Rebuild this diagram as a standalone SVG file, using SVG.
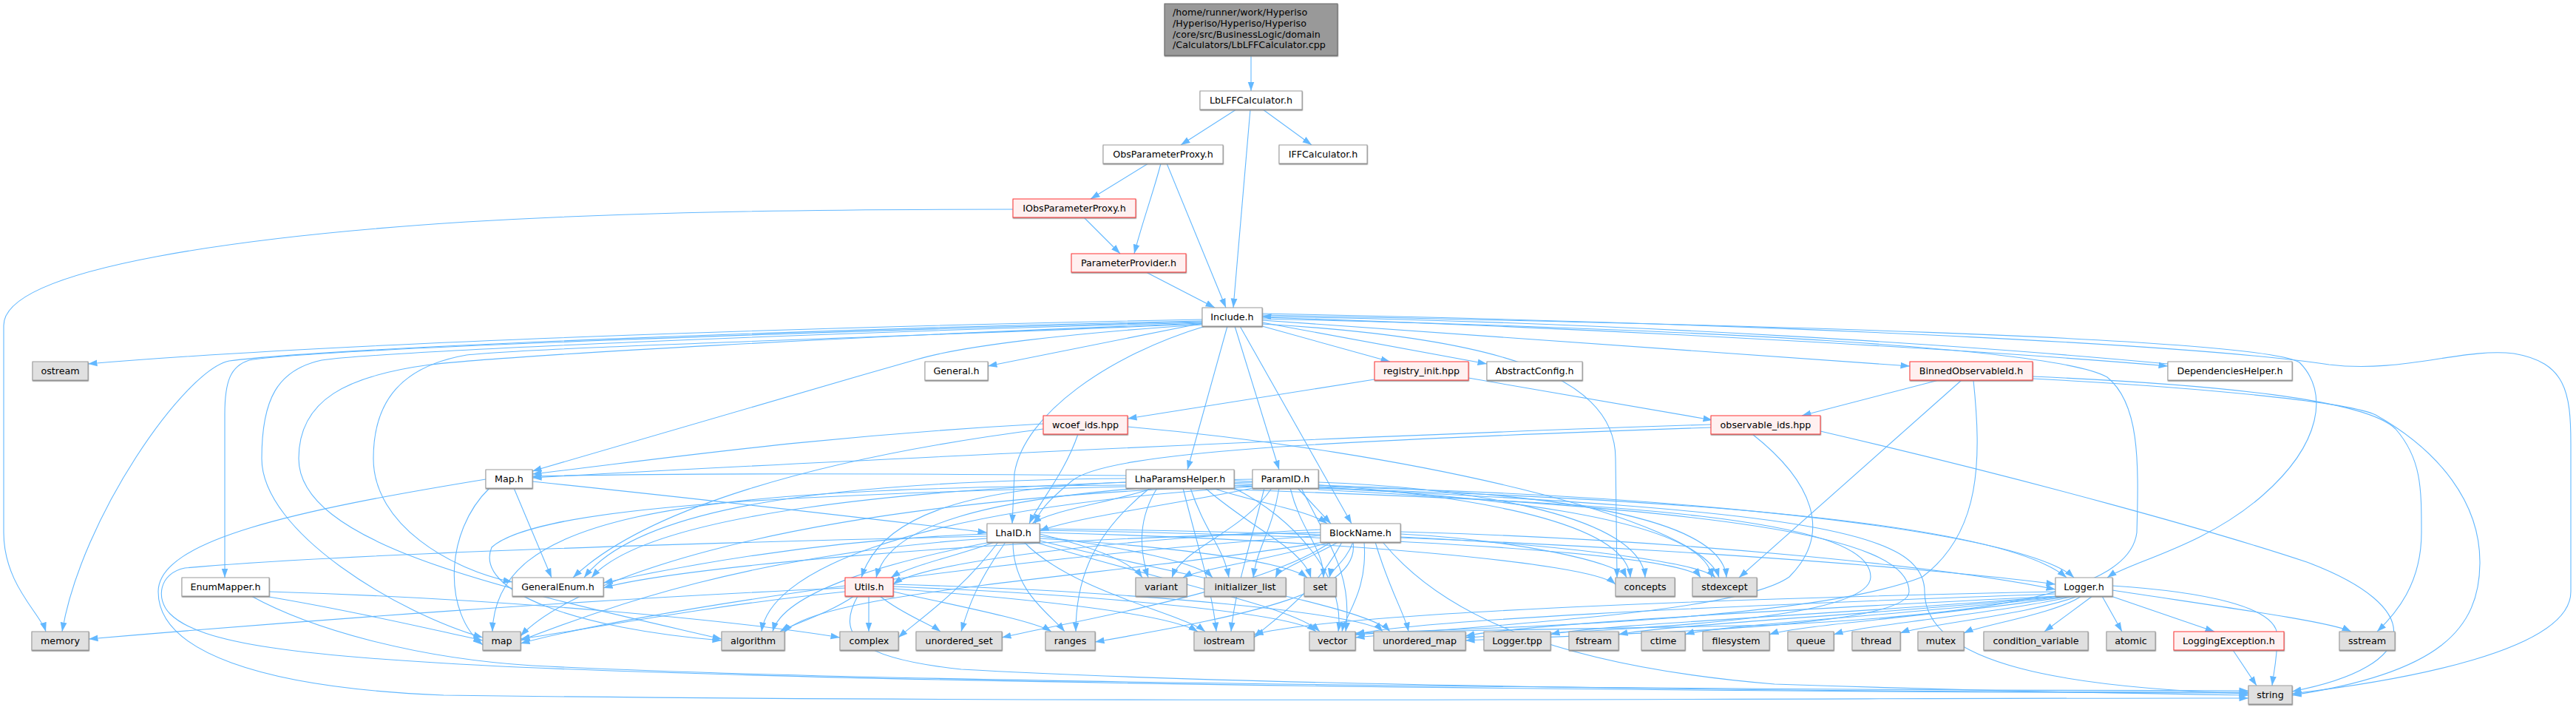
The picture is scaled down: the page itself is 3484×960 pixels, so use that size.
<svg xmlns="http://www.w3.org/2000/svg" width="3484" height="960" viewBox="0 0 3484 960">
<style>
.e{fill:none;stroke:#63b8ff;stroke-width:1.1;marker-end:url(#a)}
text{font-family:"DejaVu Sans","Liberation Sans",sans-serif;font-size:12.7px;fill:#000;text-anchor:middle}
rect{filter:url(#sh)}
.n rect{fill:#fff;stroke:#999}
.r rect{fill:#fff0f0;stroke:#f33}
.s rect{fill:#e0e0e0;stroke:#999}
.m rect{fill:#999;stroke:#666}
.m text{text-anchor:start}
</style>
<defs>
<marker id="a" markerWidth="13" markerHeight="10" refX="12.5" refY="5" orient="auto" markerUnits="userSpaceOnUse"><path d="M0,0.6 L12.5,5 L0,9.4 z" fill="#63b8ff"/></marker>
<filter id="sh" x="-5%" y="-10%" width="110%" height="130%"><feDropShadow dx="0.4" dy="1.2" stdDeviation="0" flood-color="#888"/></filter>
</defs>
<g id="connectors">
<path class="e" d="M1692,75 L1692,123"/>
<path class="e" d="M1672,148 L1597,196"/>
<path class="e" d="M1691,148 L1668,416"/>
<path class="e" d="M1708,148 L1774,196"/>
<path class="e" d="M1553,221 L1475,269"/>
<path class="e" d="M1570,221 C1560,260 1545,300 1534,343"/>
<path class="e" d="M1578,221 L1658,416"/>
<path class="e" d="M1466,294 L1515,343"/>
<path class="e" d="M1550,368 L1643,416"/>
<path class="e" d="M1370,283 C1000,283 800,290 631,300 C350,318 5,360 5,440 L5,720 C5,790 55,830 62,854"/>
<path class="e" d="M1626,432 C1200,440 500,460 119,492"/>
<path class="e" d="M1626,434 C1100,445 450,470 310,488 C250,500 110,700 84,854"/>
<path class="e" d="M1626,435 C1100,448 420,472 337,487 C312,495 304,515 304,560 L304,781"/>
<path class="e" d="M1626,436 C1100,450 520,475 435,487 C375,500 354,540 354,620 C354,720 540,830 653,862"/>
<path class="e" d="M1626,437 C1150,455 700,480 582,493 C470,508 404,540 404,620 C404,740 700,800 976,864"/>
<path class="e" d="M1626,438 C1150,458 720,470 631,480 C545,495 505,540 505,620 C505,710 610,770 693,787"/>
<path class="e" d="M1626,439 C1450,450 1300,468 1240,486 C1050,540 850,600 720,637"/>
<path class="e" d="M1626,437 L1336,495"/>
<path class="e" d="M1630,441 C1500,480 1385,560 1372,640 L1369,708"/>
<path class="e" d="M1660,441 L1606,635"/>
<path class="e" d="M1670,441 L1730,635"/>
<path class="e" d="M1677,441 L1828,708"/>
<path class="e" d="M1707,441 L1880,489"/>
<path class="e" d="M1707,436 L2011,492"/>
<path class="e" d="M1707,433 L2583,495"/>
<path class="e" d="M1707,429 C2200,445 2700,475 2932,495"/>
<path class="e" d="M2932,492 C2700,470 2200,435 1707,428"/>
<path class="e" d="M1707,438 C2000,455 2185,500 2185,620 L2187,781"/>
<path class="e" d="M1707,426 C2300,438 3050,455 3110,490 C3150,530 3140,600 3060,670 C2980,740 2880,760 2850,781"/>
<path class="e" d="M1707,424 C2500,440 3000,470 3150,493 C3250,505 3330,470 3400,478 C3470,490 3477,530 3477,600 L3477,800 C3477,880 3250,920 3100,938"/>
<path class="e" d="M1707,431 C2300,445 2780,470 2850,510 C2893,545 2893,620 2890,720 C2880,800 2700,830 2400,845 C2100,852 1900,852 1833,858"/>
<path class="e" d="M1859,513 L1525,566"/>
<path class="e" d="M1986,511 L2316,568"/>
<path class="e" d="M1411,573 C1100,590 900,620 720,641"/>
<path class="e" d="M1411,580 C1100,620 870,690 775,781"/>
<path class="e" d="M1458,587 C1440,640 1405,680 1392,708"/>
<path class="e" d="M1525,577 C1900,610 2300,700 2325,781"/>
<path class="e" d="M2314,574 C1800,590 1000,630 720,646"/>
<path class="e" d="M2314,578 C1800,596 1500,610 1450,650 C1420,675 1405,690 1400,708"/>
<path class="e" d="M2462,583 C2750,650 3000,720 3120,760 C3280,820 3280,900 3100,935"/>
<path class="e" d="M2370,587 C2450,650 2480,720 2420,780 C2350,830 2000,845 1833,862"/>
<path class="e" d="M2622,514 L2437,562"/>
<path class="e" d="M2653,514 L2352,781"/>
<path class="e" d="M2669,514 C2680,620 2680,720 2600,780 C2450,840 2000,850 1833,856"/>
<path class="e" d="M2749,509 C3000,520 3200,540 3240,580 C3275,620 3275,660 3275,720 C3275,790 3240,830 3215,854"/>
<path class="e" d="M2749,512 C3000,525 3180,545 3213,561 C3300,610 3354,680 3354,760 C3354,850 3300,910 3100,940"/>
<path class="e" d="M695,660 L746,781"/>
<path class="e" d="M662,660 C600,720 600,830 653,872"/>
<path class="e" d="M720,651 C1000,680 1250,710 1335,720"/>
<path class="e" d="M657,648 C400,690 214,730 214,800 C214,880 350,930 600,940 C1500,952 2600,943 3041,944"/>
<path class="e" d="M364,807 C500,830 600,855 653,866"/>
<path class="e" d="M364,800 C700,810 1000,840 1136,862"/>
<path class="e" d="M340,806 C420,850 560,890 720,900 C1200,925 2400,933 3041,934"/>
<path class="e" d="M1523,643 C1200,640 900,640 720,644"/>
<path class="e" d="M1523,647 C1100,650 860,690 790,781"/>
<path class="e" d="M1560,660 C1500,680 1420,690 1396,708"/>
<path class="e" d="M1640,660 C1700,680 1770,690 1795,708"/>
<path class="e" d="M1523,652 C1300,660 1190,700 1165,781"/>
<path class="e" d="M1565,660 C1540,700 1540,740 1553,781"/>
<path class="e" d="M1610,660 C1630,720 1655,740 1662,781"/>
<path class="e" d="M1630,660 C1700,720 1760,740 1773,781"/>
<path class="e" d="M1555,660 C1480,720 1455,780 1455,854"/>
<path class="e" d="M1669,650 C1950,660 2200,700 2205,781"/>
<path class="e" d="M1669,654 C2000,665 2310,700 2315,781"/>
<path class="e" d="M1669,657 C2200,670 2700,700 2795,781"/>
<path class="e" d="M1669,660 C1750,700 1820,780 1810,854"/>
<path class="e" d="M1523,656 C900,660 670,700 666,854"/>
<path class="e" d="M1523,658 C1000,670 720,690 665,740 C640,800 780,850 976,866"/>
<path class="e" d="M1600,660 C1620,740 1640,800 1645,854"/>
<path class="e" d="M1669,662 C2200,680 2530,700 2530,780 C2530,840 2200,850 1982,862"/>
<path class="e" d="M1694,648 C1200,655 870,700 800,781"/>
<path class="e" d="M1694,660 C1600,680 1450,700 1406,718"/>
<path class="e" d="M1755,660 L1800,708"/>
<path class="e" d="M1694,652 C1300,665 1200,720 1185,781"/>
<path class="e" d="M1720,660 C1680,720 1600,740 1585,781"/>
<path class="e" d="M1730,660 C1720,720 1700,740 1695,781"/>
<path class="e" d="M1745,660 C1760,720 1790,740 1790,781"/>
<path class="e" d="M1783,652 C2000,660 2220,700 2225,781"/>
<path class="e" d="M1783,656 C2100,665 2330,700 2335,781"/>
<path class="e" d="M1783,658 C2300,670 2740,720 2805,781"/>
<path class="e" d="M1760,660 C1800,740 1830,780 1820,854"/>
<path class="e" d="M1694,656 C1000,680 760,800 704,860"/>
<path class="e" d="M1694,658 C1200,690 1040,780 1030,854"/>
<path class="e" d="M1783,660 C2450,690 2603,720 2603,800 C2603,900 2800,930 3041,938"/>
<path class="e" d="M1710,660 C1690,740 1670,800 1665,854"/>
<path class="e" d="M1783,662 C2300,690 2582,720 2582,800 C2582,850 2200,856 1982,866"/>
<path class="e" d="M1335,722 C1100,730 900,770 816,788"/>
<path class="e" d="M1345,733 C1300,750 1230,765 1205,781"/>
<path class="e" d="M1335,728 C1000,750 800,830 704,866"/>
<path class="e" d="M1340,733 C1200,760 1060,800 1045,854"/>
<path class="e" d="M1350,733 C1300,800 1240,840 1215,862"/>
<path class="e" d="M1360,733 C1320,790 1310,820 1300,854"/>
<path class="e" d="M1370,733 C1370,800 1420,830 1440,854"/>
<path class="e" d="M1385,733 C1450,800 1600,830 1630,854"/>
<path class="e" d="M1400,733 C1550,780 1750,820 1785,854"/>
<path class="e" d="M1406,731 C1600,780 1850,820 1880,854"/>
<path class="e" d="M1406,722 C1480,740 1530,760 1545,781"/>
<path class="e" d="M1406,725 C1520,740 1620,760 1640,781"/>
<path class="e" d="M1406,728 C1600,740 1740,760 1768,781"/>
<path class="e" d="M1406,720 C1800,730 2150,760 2185,790"/>
<path class="e" d="M1406,717 C1900,725 2280,750 2300,781"/>
<path class="e" d="M1406,715 C2000,720 2600,765 2780,790"/>
<path class="e" d="M1335,725 C900,735 450,750 250,768 C215,775 210,810 230,830 C270,870 400,888 700,902 C1300,928 2500,936 3041,937"/>
<path class="e" d="M1786,720 C1300,730 900,770 816,795"/>
<path class="e" d="M1786,716 C1500,730 1250,760 1208,790"/>
<path class="e" d="M1786,724 C1300,760 850,830 704,870"/>
<path class="e" d="M1790,733 C1500,780 1100,800 1060,856"/>
<path class="e" d="M1800,733 C1700,800 1450,840 1355,862"/>
<path class="e" d="M1830,733 C1840,800 1700,830 1481,868"/>
<path class="e" d="M1815,733 C1780,800 1720,840 1696,862"/>
<path class="e" d="M1845,733 C1850,800 1820,830 1815,854"/>
<path class="e" d="M1860,733 C1880,800 1900,830 1905,854"/>
<path class="e" d="M1800,733 C1700,760 1620,770 1600,781"/>
<path class="e" d="M1810,733 C1760,760 1730,770 1725,781"/>
<path class="e" d="M1830,733 C1820,760 1800,770 1798,781"/>
<path class="e" d="M1894,722 C2050,730 2190,760 2200,781"/>
<path class="e" d="M1894,726 C2100,735 2300,760 2320,781"/>
<path class="e" d="M1894,719 C2300,730 2650,770 2780,797"/>
<path class="e" d="M1870,733 C1950,830 2100,900 2400,925 C2700,935 2900,938 3041,940"/>
<path class="e" d="M1143,795 C800,810 400,840 120,864"/>
<path class="e" d="M1143,800 C950,820 800,850 704,864"/>
<path class="e" d="M1155,806 C1120,830 1070,845 1055,854"/>
<path class="e" d="M1175,806 L1175,854"/>
<path class="e" d="M1190,806 C1220,830 1260,845 1272,854"/>
<path class="e" d="M1208,800 C1300,820 1400,840 1422,854"/>
<path class="e" d="M1208,796 C1400,810 1580,830 1620,854"/>
<path class="e" d="M1208,793 C1500,805 1750,830 1780,854"/>
<path class="e" d="M1208,790 C1550,800 1850,830 1870,854"/>
<path class="e" d="M1160,806 C1130,860 1160,890 1300,905 C1700,928 2500,936 3041,936"/>
<path class="e" d="M2780,800 C2300,810 1800,830 1696,858"/>
<path class="e" d="M2780,803 C2300,820 1900,840 1833,858"/>
<path class="e" d="M2782,806 C2400,825 2050,845 1982,860"/>
<path class="e" d="M2785,806 C2500,830 2150,845 2097,858"/>
<path class="e" d="M2790,806 C2550,830 2250,845 2189,858"/>
<path class="e" d="M2795,806 C2600,830 2320,845 2279,858"/>
<path class="e" d="M2800,806 C2650,830 2430,845 2393,858"/>
<path class="e" d="M2805,806 C2700,830 2520,845 2480,858"/>
<path class="e" d="M2810,806 C2750,830 2600,845 2570,856"/>
<path class="e" d="M2815,806 C2780,830 2680,845 2656,856"/>
<path class="e" d="M2830,806 L2765,854"/>
<path class="e" d="M2843,806 L2870,854"/>
<path class="e" d="M2855,806 L2995,854"/>
<path class="e" d="M2857,798 C3000,820 3150,840 3180,854"/>
<path class="e" d="M2857,792 C2980,800 3080,820 3080,860 C3080,890 3075,910 3073,927"/>
<path class="e" d="M3020,879 L3052,927"/>
</g>
<g id="node-main" class="m"><rect x="1575" y="5" width="234" height="70"/><text x="1586" y="21">/home/runner/work/Hyperiso</text><text x="1586" y="36">/Hyperiso/Hyperiso/Hyperiso</text><text x="1586" y="50.5">/core/src/BusinessLogic/domain</text><text x="1586" y="65">/Calculators/LbLFFCalculator.cpp</text></g>
<g id="node-LbLFFCalculator" class="n"><rect x="1623" y="123" width="138" height="25"/><text x="1692" y="140">LbLFFCalculator.h</text></g>
<g id="node-ObsParameterProxy" class="n"><rect x="1492" y="196" width="162" height="25"/><text x="1573" y="213">ObsParameterProxy.h</text></g>
<g id="node-IFFCalculator" class="n"><rect x="1730" y="196" width="119" height="25"/><text x="1789.5" y="213">IFFCalculator.h</text></g>
<g id="node-IObsParameterProxy" class="r"><rect x="1370" y="269" width="166" height="25"/><text x="1453" y="286">IObsParameterProxy.h</text></g>
<g id="node-ParameterProvider" class="r"><rect x="1449" y="343" width="155" height="25"/><text x="1526.5" y="360">ParameterProvider.h</text></g>
<g id="node-Include" class="n"><rect x="1626" y="416" width="81" height="25"/><text x="1666.5" y="433">Include.h</text></g>
<g id="node-ostream" class="s"><rect x="44" y="489" width="75" height="25"/><text x="81.5" y="506">ostream</text></g>
<g id="node-General" class="n"><rect x="1251" y="489" width="85" height="25"/><text x="1293.5" y="506">General.h</text></g>
<g id="node-registry_init" class="r"><rect x="1859" y="489" width="127" height="25"/><text x="1922.5" y="506">registry_init.hpp</text></g>
<g id="node-AbstractConfig" class="n"><rect x="2011" y="489" width="129" height="25"/><text x="2075.5" y="506">AbstractConfig.h</text></g>
<g id="node-BinnedObservableId" class="r"><rect x="2583" y="489" width="166" height="25"/><text x="2666" y="506">BinnedObservableId.h</text></g>
<g id="node-DependenciesHelper" class="n"><rect x="2932" y="489" width="168" height="25"/><text x="3016" y="506">DependenciesHelper.h</text></g>
<g id="node-wcoef_ids" class="r"><rect x="1411" y="562" width="114" height="25"/><text x="1468" y="579">wcoef_ids.hpp</text></g>
<g id="node-observable_ids" class="r"><rect x="2314" y="562" width="148" height="25"/><text x="2388" y="579">observable_ids.hpp</text></g>
<g id="node-Map" class="n"><rect x="657" y="635" width="63" height="25"/><text x="688.5" y="652">Map.h</text></g>
<g id="node-LhaParamsHelper" class="n"><rect x="1523" y="635" width="146" height="25"/><text x="1596" y="652">LhaParamsHelper.h</text></g>
<g id="node-ParamID" class="n"><rect x="1694" y="635" width="89" height="25"/><text x="1738.5" y="652">ParamID.h</text></g>
<g id="node-LhaID" class="n"><rect x="1335" y="708" width="71" height="25"/><text x="1370.5" y="725">LhaID.h</text></g>
<g id="node-BlockName" class="n"><rect x="1786" y="708" width="108" height="25"/><text x="1840" y="725">BlockName.h</text></g>
<g id="node-EnumMapper" class="n"><rect x="246" y="781" width="118" height="25"/><text x="305" y="798">EnumMapper.h</text></g>
<g id="node-GeneralEnum" class="n"><rect x="693" y="781" width="123" height="25"/><text x="754.5" y="798">GeneralEnum.h</text></g>
<g id="node-Utils" class="r"><rect x="1143" y="781" width="65" height="25"/><text x="1175.5" y="798">Utils.h</text></g>
<g id="node-variant" class="s"><rect x="1536" y="781" width="69" height="25"/><text x="1570.5" y="798">variant</text></g>
<g id="node-initializer_list" class="s"><rect x="1629" y="781" width="110" height="25"/><text x="1684" y="798">initializer_list</text></g>
<g id="node-set" class="s"><rect x="1764" y="781" width="43" height="25"/><text x="1785.5" y="798">set</text></g>
<g id="node-concepts" class="s"><rect x="2185" y="781" width="80" height="25"/><text x="2225" y="798">concepts</text></g>
<g id="node-stdexcept" class="s"><rect x="2289" y="781" width="87" height="25"/><text x="2332.5" y="798">stdexcept</text></g>
<g id="node-Logger" class="n"><rect x="2780" y="781" width="77" height="25"/><text x="2818.5" y="798">Logger.h</text></g>
<g id="node-memory" class="s"><rect x="43" y="854" width="77" height="25"/><text x="81.5" y="871">memory</text></g>
<g id="node-map" class="s"><rect x="653" y="854" width="51" height="25"/><text x="678.5" y="871">map</text></g>
<g id="node-algorithm" class="s"><rect x="976" y="854" width="85" height="25"/><text x="1018.5" y="871">algorithm</text></g>
<g id="node-complex" class="s"><rect x="1136" y="854" width="79" height="25"/><text x="1175.5" y="871">complex</text></g>
<g id="node-unordered_set" class="s"><rect x="1239" y="854" width="116" height="25"/><text x="1297" y="871">unordered_set</text></g>
<g id="node-ranges" class="s"><rect x="1414" y="854" width="67" height="25"/><text x="1447.5" y="871">ranges</text></g>
<g id="node-iostream" class="s"><rect x="1615" y="854" width="81" height="25"/><text x="1655.5" y="871">iostream</text></g>
<g id="node-vector" class="s"><rect x="1771" y="854" width="62" height="25"/><text x="1802" y="871">vector</text></g>
<g id="node-unordered_map" class="s"><rect x="1858" y="854" width="124" height="25"/><text x="1920" y="871">unordered_map</text></g>
<g id="node-Logger_tpp" class="s"><rect x="2007" y="854" width="90" height="25"/><text x="2052" y="871">Logger.tpp</text></g>
<g id="node-fstream" class="s"><rect x="2122" y="854" width="67" height="25"/><text x="2155.5" y="871">fstream</text></g>
<g id="node-ctime" class="s"><rect x="2220" y="854" width="59" height="25"/><text x="2249.5" y="871">ctime</text></g>
<g id="node-filesystem" class="s"><rect x="2303" y="854" width="90" height="25"/><text x="2348" y="871">filesystem</text></g>
<g id="node-queue" class="s"><rect x="2418" y="854" width="62" height="25"/><text x="2449" y="871">queue</text></g>
<g id="node-thread" class="s"><rect x="2505" y="854" width="65" height="25"/><text x="2537.5" y="871">thread</text></g>
<g id="node-mutex" class="s"><rect x="2594" y="854" width="62" height="25"/><text x="2625" y="871">mutex</text></g>
<g id="node-condition_variable" class="s"><rect x="2683" y="854" width="141" height="25"/><text x="2753.5" y="871">condition_variable</text></g>
<g id="node-atomic" class="s"><rect x="2849" y="854" width="66" height="25"/><text x="2882" y="871">atomic</text></g>
<g id="node-LoggingException" class="r"><rect x="2940" y="854" width="149" height="25"/><text x="3014.5" y="871">LoggingException.h</text></g>
<g id="node-sstream" class="s"><rect x="3164" y="854" width="75" height="25"/><text x="3201.5" y="871">sstream</text></g>
<g id="node-string" class="s"><rect x="3041" y="927" width="59" height="25"/><text x="3070.5" y="944">string</text></g>
</svg>
